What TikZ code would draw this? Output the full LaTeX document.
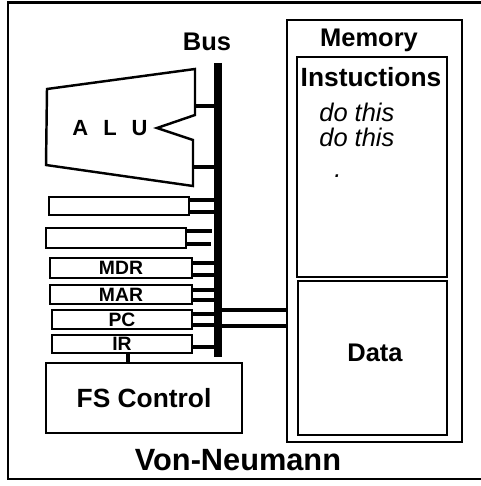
\documentclass[tikz,border=0pt]{standalone}
\usepackage{fontspec}
\setmainfont{Liberation Sans}

\begin{document}
\begin{tikzpicture}[x=0.02cm, y=-0.02cm,
  box/.style={draw, line width=1.4pt, inner sep=0pt},
  reg/.style={box, minimum width=2.8cm, minimum height=0.38cm, font=\bfseries\fontsize{11}{11}\selectfont},
  link/.style={line width=2.3pt},
  heading/.style={inner sep=0pt, font=\bfseries\fontsize{14.5}{16}\selectfont},
  instr/.style={inner sep=0pt, anchor=west, font=\itshape\fontsize{14.5}{16}\selectfont}
]
  \useasboundingbox (0,0) rectangle (480,486);
  \draw[box] (8,2.5) rectangle (484,479);

  % bus
  \coordinate (bustop) at (218,63);
  \coordinate (busbot) at (218,357);
  \draw[line width=4pt] (bustop) -- (busbot);
  \node[heading] (bus) at (207,42) {Bus};

  % ALU
  \draw[box, line join=miter] (47,89) -- (195,69) -- (195,115) -- (157,128) -- (193,140) -- (193,186) -- (46,165) -- cycle;
  \node[inner sep=0pt, font=\bfseries\fontsize{12.5}{14}\selectfont] (alu) at (110,128) {A\hspace{0.3cm}L\hspace{0.3cm}U};
  \coordinate (alu1) at (195,106);
  \coordinate (alu2) at (193,167);
  \draw[link] (alu1) -- (alu1 -| bustop);
  \draw[link] (alu2) -- (alu2 -| bustop);

  % registers
  \node[reg, minimum height=0.36cm] (r1) at (119,206) {};
  \node[reg, minimum height=0.4cm] (r2) at (116,238) {};
  \node[reg, minimum width=2.84cm, minimum height=0.4cm] (mdr) at (121,268) {MDR};
  \node[reg, minimum width=2.84cm] (mar) at (121,294.5) {MAR};
  \node[reg] (pc) at (122,319.5) {PC};
  \node[reg, minimum height=0.36cm] (ir) at (122,344) {IR};

  \foreach \reg/\sh in {r1/0.12, r1/-0.12, mdr/0.1, mdr/-0.14, mar/0.09, mar/-0.11, pc/0.11, pc/-0.11, ir/-0.06} {
    \path ([yshift=\sh cm]\reg.east) coordinate (p);
    \draw[link] (p) -- (p -| bustop);
  }
  \draw[link] ([yshift=0.14cm]r2.east) -- ++(25,0);
  \draw[link] ([yshift=-0.12cm]r2.east) -- ++(24,0);

  % control
  \node[box, minimum width=3.92cm, minimum height=1.4cm, font=\bfseries\fontsize{15}{16}\selectfont] (fs) at (144,398) {FS Control};
  \path ([xshift=0.12cm]ir.south) coordinate (irc);
  \draw[link] (irc) -- (irc |- fs.north);

  % memory
  \node[box, minimum width=3.5cm, minimum height=8.44cm] (mem) at (374.5,231) {};
  \node[heading] (memt) at (369,40) {Memory};
  \node[box, minimum width=3cm, minimum height=4.4cm] (ins) at (372,167) {};
  \node[heading, font=\bfseries\fontsize{15}{16}\selectfont] (inst) at (371,77) {Instuctions};
  \node[instr] (do1) at (319,112) {do this};
  \node[instr] (do2) at (319,137) {do this};
  \node[instr] (dots) at (334,176) {.};
  \node[box, minimum width=2.98cm, minimum height=3.08cm] (data) at (372.5,358) {};
  \node[heading] (datat) at (375,353) {Data};

  \coordinate (m1) at (218,310);
  \coordinate (m2) at (218,326);
  \draw[line width=2.8pt] (m1) -- (m1 -| mem.west);
  \draw[line width=2.8pt] (m2) -- (m2 -| mem.west);

  \node[inner sep=0pt, font=\bfseries\fontsize{17.5}{19}\selectfont] (title) at (238,460) {Von-Neumann};
\end{tikzpicture}
\end{document}
